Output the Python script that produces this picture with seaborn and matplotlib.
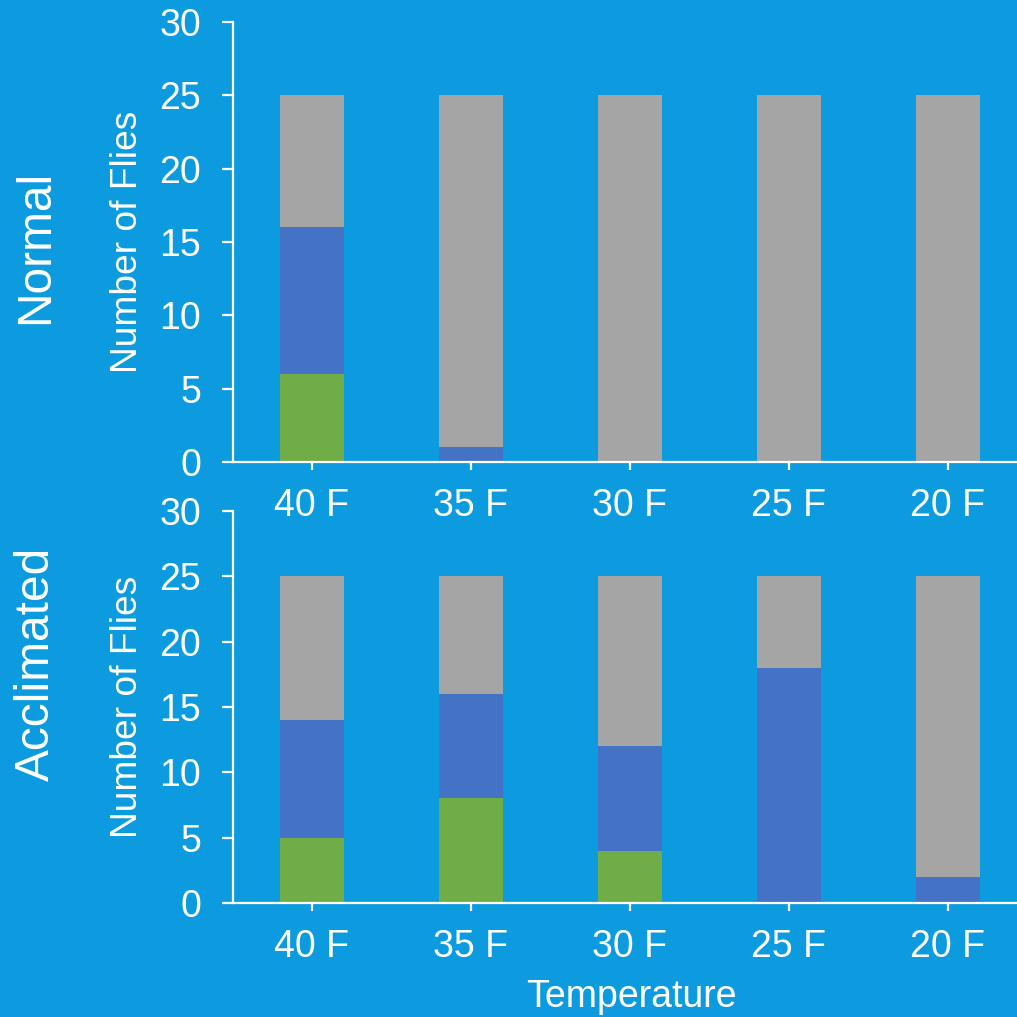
import matplotlib
matplotlib.use("Agg")
import matplotlib.pyplot as plt
import seaborn as sns
import numpy as np
import pandas as pd

# Temperatures tested and fly counts per outcome (stacked bottom -> top)
temperatures = ["40 F", "35 F", "30 F", "25 F", "20 F"]

normal_green = [6, 0, 0, 0, 0]
normal_blue = [10, 1, 0, 0, 0]
normal_gray = [9, 24, 25, 25, 25]

acclimated_green = [5, 8, 4, 0, 0]
acclimated_blue = [9, 8, 8, 18, 2]
acclimated_gray = [11, 9, 13, 7, 23]

group_labels = ["Normal", "Acclimated"]
y_ticks = [0, 5, 10, 15, 20, 25, 30]

BG = "#0B9BDE"
GREEN = "#70AD47"
BLUE = "#4472C4"
GRAY = "#A5A5A5"
WHITE = "white"

sns.set_theme(style="white")
plt.rcParams["font.family"] = ["Liberation Sans", "DejaVu Sans"]

fig = plt.figure(figsize=(10.17, 10.17), dpi=100, facecolor=BG)

W = H = 1017.0
ax_top = fig.add_axes([233 / W, (H - 462) / H, (1017 - 233) / W, (462 - 22) / H])
ax_bot = fig.add_axes([233 / W, (H - 903) / H, (1017 - 233) / W, (903 - 511) / H])
ax_top.set_zorder(2)


def draw_panel(ax, green, blue, gray):
    df = pd.DataFrame({
        "temperature": temperatures,
        "green": green,
        "blue": blue,
        "gray": gray,
    })
    df["lvl1"] = df["green"]
    df["lvl2"] = df["green"] + df["blue"]
    df["lvl3"] = df["lvl2"] + df["gray"]
    # draw cumulative heights from tallest to shortest to get stacked look
    for col, colr in [("lvl3", GRAY), ("lvl2", BLUE), ("lvl1", GREEN)]:
        sns.barplot(data=df, x="temperature", y=col, order=temperatures,
                    color=colr, saturation=1, width=0.4, linewidth=0, ax=ax)
    ax.set_facecolor("none")
    ax.set_xlim(-0.497, 4.434)
    ax.set_ylim(0, 30)
    ax.set_yticks(y_ticks)
    for s in ["top", "right"]:
        ax.spines[s].set_visible(False)
    for s in ["left", "bottom"]:
        ax.spines[s].set_color(WHITE)
        ax.spines[s].set_linewidth(1.6)
    ax.tick_params(axis="y", direction="out", length=8, width=1.6, color=WHITE,
                   labelcolor=WHITE, labelsize=27, pad=15, left=True)
    ax.tick_params(axis="x", direction="out", length=6, width=1.6, color=WHITE,
                   labelcolor=WHITE, labelsize=27, pad=13, bottom=True)
    ax.set_xlabel("")
    ax.set_ylabel("Number of Flies", color=WHITE, fontsize=26.7)
    ax.yaxis.set_label_coords(-0.112, 0.5)


draw_panel(ax_top, normal_green, normal_blue, normal_gray)
draw_panel(ax_bot, acclimated_green, acclimated_blue, acclimated_gray)

fig.text(36 / W, 1 - 247 / H, group_labels[0], rotation=90, color=WHITE,
         fontsize=34.5, ha="center", va="center")
fig.text(36 / W, 1 - 664 / H, group_labels[1], rotation=90, color=WHITE,
         fontsize=34.5, ha="center", va="center")
fig.text(631 / W, 1 - 997 / H, "Temperature", color=WHITE, fontsize=27,
         ha="center", va="center")

fig.savefig("out.png", dpi=100, facecolor=BG)
